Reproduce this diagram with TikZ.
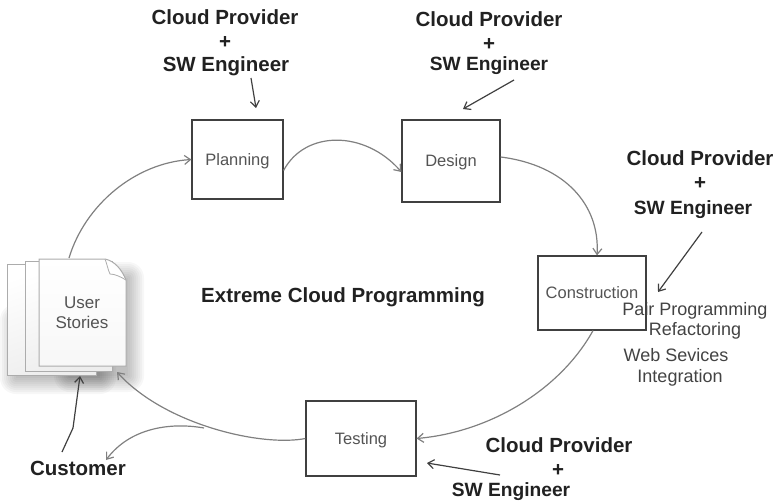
\documentclass[tikz,border=0pt]{standalone}
\usepackage{fontspec}
\setmainfont{Liberation Sans}
\usetikzlibrary{arrows.meta,calc}
\definecolor{boxline}{gray}{0.25}
\definecolor{flowline}{gray}{0.5}
\definecolor{softtext}{gray}{0.33}
\definecolor{roletext}{gray}{0.13}
\tikzset{
  procbox/.style={draw=boxline,line width=1.2pt,fill=white,inner sep=0pt,text depth=0pt,text=softtext,font=\fontsize{16.5}{20}\selectfont},
  role/.style={inner sep=0pt,text depth=0pt,text=roletext,font=\fontsize{20.5}{24}\selectfont\bfseries},
  rolesmall/.style={role,font=\fontsize{19.2}{24}\selectfont\bfseries},
  activity/.style={inner sep=0pt,text depth=0pt,text=roletext!85!white,font=\fontsize{18}{22}\selectfont},
  flow/.style={draw=flowline,line width=1.2pt,-{Straight Barb[length=6pt,width=9pt]}},
  assign/.style={draw=boxline,line width=1.2pt,-{Straight Barb[length=6pt,width=9pt]}},
  sheet/.style={draw=gray!65,line width=1pt,bottom color=gray!14,top color=white,shading angle=20},
}
\begin{document}
\begin{tikzpicture}[x=1pt,y=-1pt]
\useasboundingbox (0,0) rectangle (775,503);
% soft shadow
\foreach \e in {0,2,...,16}{
  \fill[black,opacity=0.03,rounded corners=\e pt] ({16-\e},{320-\e}) rectangle ({100+\e},{378+\e});
  \fill[black,opacity=0.03,rounded corners=\e pt] ({70-\e},{278-\e}) rectangle ({128+\e},{376+\e});
}
% document stack
\path[sheet] (7,264) rectangle (96,375);
\path[sheet] (25,261) rectangle (112,371);
\path[sheet,bottom color=gray!6] (39,259) -- (105,259) .. controls (115,261) and (122,270) .. (126,280) -- (126,366) -- (39,366) -- cycle;
\draw[gray!65,line width=0.8pt,fill=white] (105,259) .. controls (107,264) and (108,270) .. (110,274) .. controls (115,274) and (121,277) .. (126,280);
\node[inner sep=0pt,align=center,text=softtext,font=\fontsize{17}{20}\selectfont] (stories) at (82,313) {User\\Stories};
\coordinate (storiesTop) at (69,258);
\coordinate (storiesBottom) at (80,376);
\coordinate (storiesCorner) at (117,372);
% process boxes
\node[procbox,minimum width=91pt,minimum height=79pt] (planning) at (237.5,159.5) {Planning};
\node[procbox,minimum width=98pt,minimum height=82pt] (design) at (451,161) {Design};
\node[procbox,minimum width=108pt,minimum height=74pt] (construction) at (592,293) {Construction};
\node[procbox,minimum width=110pt,minimum height=75pt] (testing) at (361,438.5) {Testing};
% roles
\node[role] (r1a) at (225,17) {Cloud Provider};
\node[role] (r1b) at (225,42) {+};
\node[role] (r1c) at (226,64) {SW Engineer};
\node[role] (r2a) at (489,19) {Cloud Provider};
\node[role] (r2b) at (489,44) {+};
\node[rolesmall] (r2c) at (489,64) {SW Engineer};
\node[role] (r3a) at (700,158) {Cloud Provider};
\node[role] (r3b) at (700,183) {+};
\node[rolesmall] (r3c) at (693,208) {SW Engineer};
\node[role] (r4a) at (559,445) {Cloud Provider};
\node[role] (r4b) at (558,470) {+};
\node[rolesmall] (r4c) at (511,490) {SW Engineer};
\node[role] (customer) at (78,468) {Customer};
\node[role] (title) at (343,295) {Extreme Cloud Programming};
% activities
\node[activity] (pair) at (695,309) {Pair Programming};
\node[activity] (refactor) at (695,329) {Refactoring};
\node[activity] (web) at (676,355) {Web Sevices};
\node[activity] (integ) at (680,376) {Integration};
% free ends
\coordinate (a1s) at (251,78); \coordinate (a1e) at (256,108);
\coordinate (a2s) at (514,80); \coordinate (a2e) at (463,109);
\coordinate (a3s) at (702,232); \coordinate (a3e) at (658,292);
\coordinate (a4s) at (500,475); \coordinate (a4e) at (427,463);
\coordinate (custs) at (62,452);
\coordinate (branch) at (204,428); \coordinate (rejected) at (106,460);
% cycle
\draw[flow] (storiesTop) .. controls (85,205) and (135,163) .. (planning.west);
\draw[flow] ([yshift=-11pt]planning.east) .. controls (305,130) and (365,130) .. ([yshift=-11pt]design.west);
\draw[flow] ([yshift=4pt]design.east) .. controls (565,165) and (600,205) .. ([xshift=5pt]construction.north);
\draw[flow] ([xshift=1pt]construction.south) .. controls (560,390) and (490,432) .. (testing.east);
\draw[flow] (testing.west) .. controls (262,447) and (165,425) .. (storiesCorner);
\draw[flow] (branch) .. controls (170,422) and (130,428) .. (rejected);
% assignments
\draw[assign] (a1s) -- (a1e);
\draw[assign] (a2s) -- (a2e);
\draw[assign] (a3s) -- (a3e);
\draw[assign] (a4s) -- (a4e);
\draw[assign] (custs) -- (73,428) -- (storiesBottom);
\end{tikzpicture}
\end{document}
